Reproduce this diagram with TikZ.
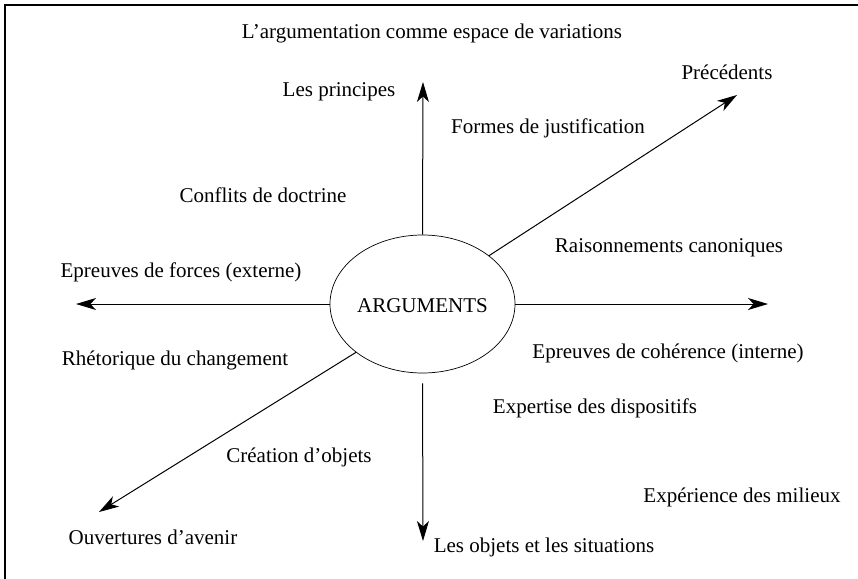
\documentclass[tikz,border=0pt]{standalone}
\usepackage{fontspec}
\setmainfont{Liberation Serif}
\usetikzlibrary{arrows.meta,shapes.geometric}
\begin{document}
\begin{tikzpicture}[x=0.5pt,y=-0.5pt,
	lbl/.style={font=\fontsize{10.5}{12}\selectfont,inner sep=0pt},
	arr/.style={line width=0.5pt,-{Stealth[length=10pt,width=6pt,inset=2.8pt]}}]
	\clip (0,0) rectangle (858,579);
	\draw[line width=0.7pt] (5,5) rectangle (880,600);
	\node[draw,ellipse,line width=0.35pt,minimum width=92.5pt,minimum height=69pt,inner sep=0pt] (ell) at (422.5,304) {};
	\node[lbl] (args) at (422.5,306) {ARGUMENTS};
	% ends of the arrows
	\coordinate (tipN) at (423,82);
	\coordinate (tipS) at (423,541);
	\coordinate (tipW) at (76,304);
	\coordinate (tipE) at (768,304);
	\coordinate (tipNE) at (737,95);
	\coordinate (tipSW) at (99,512);
	\draw[arr] (ell.north) -- (tipN);
	\draw[arr,shorten <=5pt] (ell.south) -- (tipS);
	\draw[arr] (ell.west) -- (tipW);
	\draw[arr] (ell.east) -- (tipE);
	\draw[arr] (ell.36) -- (tipNE);
	\draw[arr] (ell.216) -- (tipSW);
	% labels
	\node[lbl] (titre) at (432,33) {L'argumentation comme espace de variations};
	\node[lbl] (princ) at (339,92) {Les principes};
	\node[lbl] (prec) at (727,72) {Précédents};
	\node[lbl] (formes) at (548,128) {Formes de justification};
	\node[lbl] (conflits) at (263,195) {Conflits de doctrine};
	\node[lbl] (raison) at (669,248) {Raisonnements canoniques};
	\node[lbl] (forces) at (181,272) {Epreuves de forces (externe)};
	\node[lbl] (coher) at (668,353) {Epreuves de cohérence (interne)};
	\node[lbl] (rhet) at (175,360) {Rhétorique du changement};
	\node[lbl] (expert) at (595,408) {Expertise des dispositifs};
	\node[lbl] (creation) at (299,457) {Création d'objets};
	\node[lbl] (milieux) at (742,497) {Expérience des milieux};
	\node[lbl] (avenir) at (153,537) {Ouvertures d'avenir};
	\node[lbl] (objets) at (544,547) {Les objets et les situations};
\end{tikzpicture}
\end{document}
